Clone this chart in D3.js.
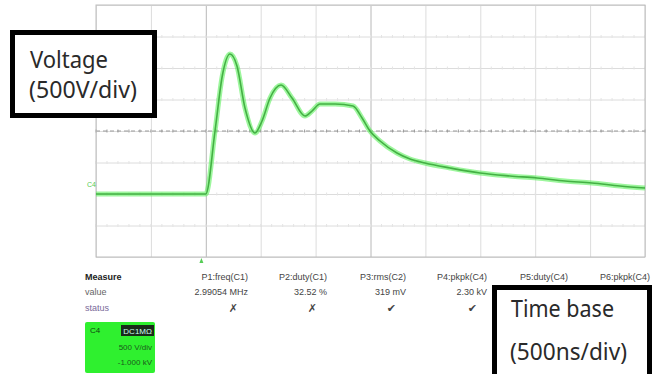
<!DOCTYPE html>
<html>
<head>
<meta charset="utf-8">
<script src="https://cdn.jsdelivr.net/npm/d3@7"></script>
<style>
  body { margin: 0; background: #fff; }
  svg { display: block; }
</style>
</head>
<body>
<div id="chart"></div>
<script>
// scope trace: time in ns, voltage in V
const timeNs = [0, 500, 1000, 1084, 1150, 1220, 1284, 1357, 1448, 1512, 1585, 1685, 1785, 1903, 1967, 2040, 2177, 2341, 2423, 2495, 2587, 2741, 2860, 2996, 3224, 3497, 3770, 4016, 4271, 4517, 4772, 5000];
const voltV  = [0, 0, 0, 1000, 1873, 2222, 2032, 1365, 968, 1159, 1524, 1730, 1524, 1238, 1317, 1429, 1429, 1397, 1206, 1000, 841, 651, 556, 492, 413, 333, 286, 254, 206, 175, 127, 95];

const timeTicks = d3.range(0, 5001, 500);
const voltTicks = d3.range(-1000, 3001, 500);
const triggerNs = 960;

const measHeaders = ["P1:freq(C1)", "P2:duty(C1)", "P3:rms(C2)", "P4:pkpk(C4)", "P5:duty(C4)", "P6:pkpk(C4)"];
const measValues = ["2.99054 MHz", "32.52 %", "319 mV", "2.30 kV", "", ""];
const measStatus = ["\u2717", "\u2717", "\u2714", "\u2714", "", ""];
const channelInfo = ["C4", "DC1M\u03a9", "500 V/div", "-1.000 kV"];

const W = 658, H = 374;
const margin = { top: 5, right: 13, bottom: 117, left: 96 };
const w = W - margin.left - margin.right;
const h = H - margin.top - margin.bottom;

const svg = d3.select('#chart').append('svg')
    .attr('width', W)
    .attr('height', H);

const g = svg.append('g')
    .attr('transform', `translate(${margin.left},${margin.top})`);

const x = d3.scaleLinear().domain([0, 5000]).range([0, w]);
const y = d3.scaleLinear().domain([-1000, 3000]).range([h, 0]);

// grid
g.append('g')
    .attr('transform', `translate(0,${h})`)
    .call(d3.axisBottom(x).tickValues(timeTicks).tickSize(-h).tickFormat(''))
    .call(a => a.select('.domain').remove())
    .call(a => a.selectAll('line').attr('stroke', (d) => (d === 1000 || d === 2500) ? '#b8b8b8' : '#dcdcdc'));

g.append('g')
    .call(d3.axisLeft(y).tickValues(voltTicks).tickSize(-w).tickFormat(''))
    .call(a => a.select('.domain').remove())
    .call(a => a.selectAll('line').attr('stroke', '#dcdcdc'));

// minor ticks along the grid
const minorT = d3.range(0, 5001, 100);
voltTicks.slice(1, -1).forEach(v => {
    g.append('g').selectAll('line').data(minorT).join('line')
        .attr('x1', d => x(d)).attr('x2', d => x(d))
        .attr('y1', y(v) - 1.5).attr('y2', y(v) + 1.5)
        .attr('stroke', v === 1000 ? '#999' : '#e4e4e4');
});

// centre dashed line
g.append('line')
    .attr('x1', 0).attr('x2', w)
    .attr('y1', y(1000)).attr('y2', y(1000))
    .attr('stroke', '#9a9a9a')
    .attr('stroke-dasharray', '4,3');

g.append('rect')
    .attr('width', w).attr('height', h)
    .attr('fill', 'none')
    .attr('stroke', '#bdbdbd');

// trace
const pts = timeNs.map((t, i) => [t, voltV[i]]);
const line = d3.line()
    .x(d => x(d[0]))
    .y(d => y(d[1]))
    .curve(d3.curveMonotoneX);

g.append('path').datum(pts)
    .attr('fill', 'none')
    .attr('stroke', '#5cf05c')
    .attr('stroke-width', 5)
    .attr('stroke-opacity', 0.6)
    .attr('d', line);
g.append('path').datum(pts)
    .attr('fill', 'none')
    .attr('stroke', '#44b044')
    .attr('stroke-width', 1.6)
    .attr('stroke-linejoin', 'round')
    .attr('d', line);

// channel marker + trigger
g.append('text')
    .attr('x', -9).attr('y', y(0) - 7)
    .attr('font-family', 'Liberation Sans Narrow, Liberation Sans, sans-serif')
    .attr('font-size', 7)
    .attr('fill', '#55cc55')
    .text('C4');
g.append('path')
    .attr('d', `M${x(triggerNs)},${h + 1} l-2,5 l4,0 z`)
    .attr('fill', '#55cc55');

// measurement table
const tf = 'Liberation Sans Narrow, Liberation Sans, Arial, sans-serif';
const rowY = [280, 295, 311];
svg.append('text').attr('x', 85).attr('y', rowY[0])
    .attr('font-family', tf).attr('font-size', 9).attr('font-weight', 'bold')
    .attr('fill', '#222').text('Measure');
svg.append('text').attr('x', 85).attr('y', rowY[1])
    .attr('font-family', tf).attr('font-size', 9).attr('fill', '#666').text('value');
svg.append('text').attr('x', 85).attr('y', rowY[2])
    .attr('font-family', tf).attr('font-size', 9).attr('fill', '#7a6a9a').text('status');

const colRight = [248, 327, 406, 487, 568, 650];
const cols = svg.append('g').attr('font-family', tf).attr('font-size', 9).attr('text-anchor', 'end');
cols.selectAll('.h').data(measHeaders).join('text')
    .attr('x', (d, i) => colRight[i]).attr('y', rowY[0]).attr('fill', '#444').text(d => d);
cols.selectAll('.v').data(measValues).join('text')
    .attr('x', (d, i) => colRight[i]).attr('y', rowY[1]).attr('fill', '#444').text(d => d);
cols.selectAll('.s').data(measStatus).join('text')
    .attr('x', (d, i) => colRight[i] - 10).attr('y', rowY[2] + 1)
    .attr('font-family', 'DejaVu Sans, sans-serif').attr('font-size', 11)
    .attr('fill', '#444').text(d => d);

// channel descriptor box
const cb = svg.append('g').attr('font-family', tf).attr('font-size', 8);
cb.append('rect').attr('x', 85).attr('y', 322).attr('width', 70).attr('height', 51)
    .attr('rx', 2).attr('fill', '#2ff02f');
cb.append('text').attr('x', 90).attr('y', 333).attr('fill', '#114411').text(channelInfo[0]);
cb.append('rect').attr('x', 121).attr('y', 325).attr('width', 33).attr('height', 11).attr('fill', '#1a2a1a');
cb.append('text').attr('x', 152).attr('y', 334).attr('text-anchor', 'end').attr('fill', '#cfe').text(channelInfo[1]);
cb.append('text').attr('x', 152).attr('y', 350).attr('text-anchor', 'end').attr('fill', '#1b5a1b').text(channelInfo[2]);
cb.append('text').attr('x', 152).attr('y', 365).attr('text-anchor', 'end').attr('fill', '#1b5a1b').text(channelInfo[3]);

// annotation boxes
const af = 'Noto Sans, Open Sans, sans-serif';
function note(rx, ry, rw, rh, lines) {
    const n = svg.append('g');
    n.append('rect').attr('x', rx).attr('y', ry).attr('width', rw).attr('height', rh)
        .attr('fill', '#fff').attr('stroke', '#000').attr('stroke-width', 5);
    lines.forEach(l => {
        n.append('text').attr('x', l.x).attr('y', l.y)
            .attr('font-family', af).attr('font-size', 23).attr('fill', '#2a2a2a')
            .attr('textLength', l.len).attr('lengthAdjust', 'spacingAndGlyphs')
            .text(l.t);
    });
}
note(12.5, 32.5, 142, 83, [
    { t: 'Voltage', x: 30, y: 68, len: 78 },
    { t: '(500V/div)', x: 29, y: 98, len: 108 }
]);
note(494.5, 287.5, 155, 100, [
    { t: 'Time base', x: 511, y: 317, len: 103 },
    { t: '(500ns/div)', x: 510, y: 360, len: 117 }
]);
</script>
</body>
</html>
